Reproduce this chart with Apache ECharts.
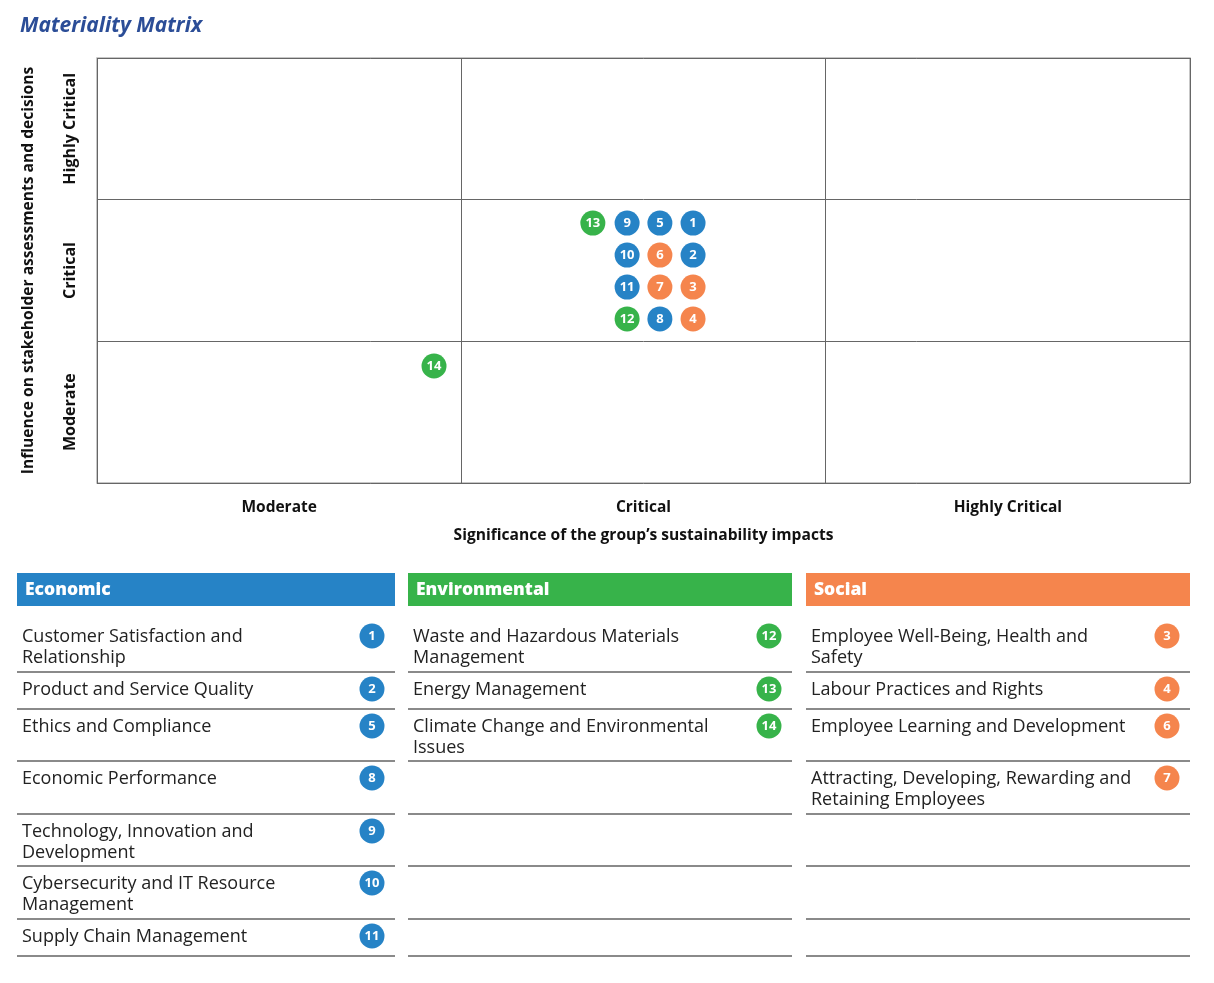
<!DOCTYPE html>
<html>
<head>
<meta charset="utf-8">
<script src="https://cdn.jsdelivr.net/npm/echarts@6/dist/echarts.min.js"></script>
<style>
  html, body { margin: 0; padding: 0; background: #fff; }
  #main { width: 1214px; height: 983px; }
</style>
</head>
<body>
<div id="main"></div>
<script>
// level labels on both axes
const levels = ['Moderate', 'Critical', 'Highly Critical']

// topic ids per pillar, and their names
const econIds = [1, 2, 5, 8, 9, 10, 11]
const econNames = ['Customer Satisfaction and Relationship', 'Product and Service Quality', 'Ethics and Compliance',
  'Economic Performance', 'Technology, Innovation and Development', 'Cybersecurity and IT Resource Management',
  'Supply Chain Management']
const envIds = [12, 13, 14]
const envNames = ['Waste and Hazardous Materials Management', 'Energy Management', 'Climate Change and Environmental Issues']
const socIds = [3, 4, 6, 7]
const socNames = ['Employee Well-Being, Health and Safety', 'Labour Practices and Rights',
  'Employee Learning and Development', 'Attracting, Developing, Rewarding and Retaining Employees']

// position on matrix (0..3 each axis)
const econX = [1.636, 1.636, 1.545, 1.545, 1.455, 1.455, 1.455]
const econY = [1.835, 1.609, 1.835, 1.158, 1.835, 1.609, 1.383]
const envX = [1.455, 1.361, 0.925]
const envY = [1.158, 1.835, 0.826]
const socX = [1.636, 1.636, 1.545, 1.545]
const socY = [1.383, 1.158, 1.609, 1.383]

const blue = '#2683c6'
const green = '#37b34a'
const orange = '#f5854d'
const font = 'Open Sans'

let pts = function(ids, xs, ys) {
  return ids.map((id, i) => [xs[i], ys[i], id])
}

let bubbleSeries = function(name, color, data) {
  return {
    name: name,
    type: 'scatter',
    symbolSize: 25,
    itemStyle: { color: color, opacity: 1 },
    label: {
      show: true,
      position: 'inside',
      formatter: p => p.data[2],
      color: '#fff',
      fontWeight: 'bold',
      fontSize: 13,
      fontFamily: font
    },
    data: data
  }
}

// 表格部分
const cols = [
  { title: 'Economic', color: blue, left: 17, right: 395, ids: econIds, names: econNames },
  { title: 'Environmental', color: green, left: 408, right: 792, ids: envIds, names: envNames },
  { title: 'Social', color: orange, left: 806, right: 1190, ids: socIds, names: socNames }
]
const rowTops = [619, 672, 709, 761, 814, 866, 919, 956]

let tableGraphics = function() {
  let g = []
  cols.forEach(c => {
    g.push({
      type: 'rect', shape: { x: c.left, y: 573, width: c.right - c.left, height: 33 },
      style: { fill: c.color }
    })
    g.push({
      type: 'text', x: c.left + 8, y: 590,
      style: { text: c.title, fill: '#fff', font: '800 17.5px ' + font, verticalAlign: 'middle' }
    })
    for (let i = 1; i < rowTops.length; i++) {
      g.push({
        type: 'line', shape: { x1: c.left, y1: rowTops[i], x2: c.right, y2: rowTops[i] },
        style: { stroke: '#8a8a8a', lineWidth: 2 }
      })
    }
    c.ids.forEach((id, i) => {
      let top = rowTops[i]
      let bx = c.right - 23
      g.push({
        type: 'text', x: c.left + 5, y: top + 7,
        style: {
          text: c.names[i], fill: '#222', font: '18px ' + font,
          width: 326, overflow: 'break', lineHeight: 21
        }
      })
      g.push({
        type: 'circle', shape: { cx: bx, cy: top + 17, r: 12.5 },
        style: { fill: c.color }
      })
      g.push({
        type: 'text', x: bx, y: top + 17,
        style: { text: String(id), fill: '#fff', font: 'bold 13px ' + font, align: 'center', verticalAlign: 'middle' }
      })
    })
  })
  return g
}

let chart = echarts.init(document.getElementById('main'))

let option = {
  backgroundColor: '#fff',
  textStyle: { fontFamily: font },
  title: {
    text: 'Materiality Matrix',
    left: 15, top: 11,
    textStyle: { color: '#2b4d97', fontSize: 21, fontWeight: 'bold', fontStyle: 'italic', fontFamily: font }
  },
  grid: {
    left: 97, top: 58, width: 1093, height: 425,
    show: true, borderColor: '#b5b5b5', borderWidth: 1.5
  },
  xAxis: [{
    type: 'value', min: 0, max: 3, interval: 1,
    axisLine: { show: false }, axisTick: { show: false }, axisLabel: { show: false },
    splitLine: { show: true, lineStyle: { color: '#666', width: 1 } }
  }, {
    type: 'category', data: levels, position: 'bottom',
    axisLine: { show: false }, axisTick: { show: false },
    axisLabel: { interval: 0, margin: 17, color: '#111', fontWeight: 'bold', fontSize: 15.5 },
    name: 'Significance of the group\u2019s sustainability impacts',
    nameLocation: 'middle', nameGap: 45,
    nameTextStyle: { color: '#111', fontWeight: 'bold', fontSize: 15.6 }
  }],
  yAxis: [{
    type: 'value', min: 0, max: 3, interval: 1,
    axisLine: { show: false }, axisTick: { show: false }, axisLabel: { show: false },
    splitLine: { show: true, lineStyle: { color: '#666', width: 1 } }
  }, {
    type: 'category', data: levels, position: 'left',
    axisLine: { show: false }, axisTick: { show: false },
    axisLabel: { interval: 0, margin: 19, rotate: 90, color: '#111', fontWeight: 'bold', fontSize: 16 },
    name: 'Influence on stakeholder assessments and decisions',
    nameLocation: 'middle', nameGap: 60, nameRotate: 90,
    nameTextStyle: { color: '#111', fontWeight: 'bold', fontSize: 15.6 }
  }],
  series: [
    bubbleSeries('Economic', blue, pts(econIds, econX, econY)),
    bubbleSeries('Environmental', green, pts(envIds, envX, envY)),
    bubbleSeries('Social', orange, pts(socIds, socX, socY))
  ],
  graphic: tableGraphics()
}

chart.setOption(option)
</script>
</body>
</html>
